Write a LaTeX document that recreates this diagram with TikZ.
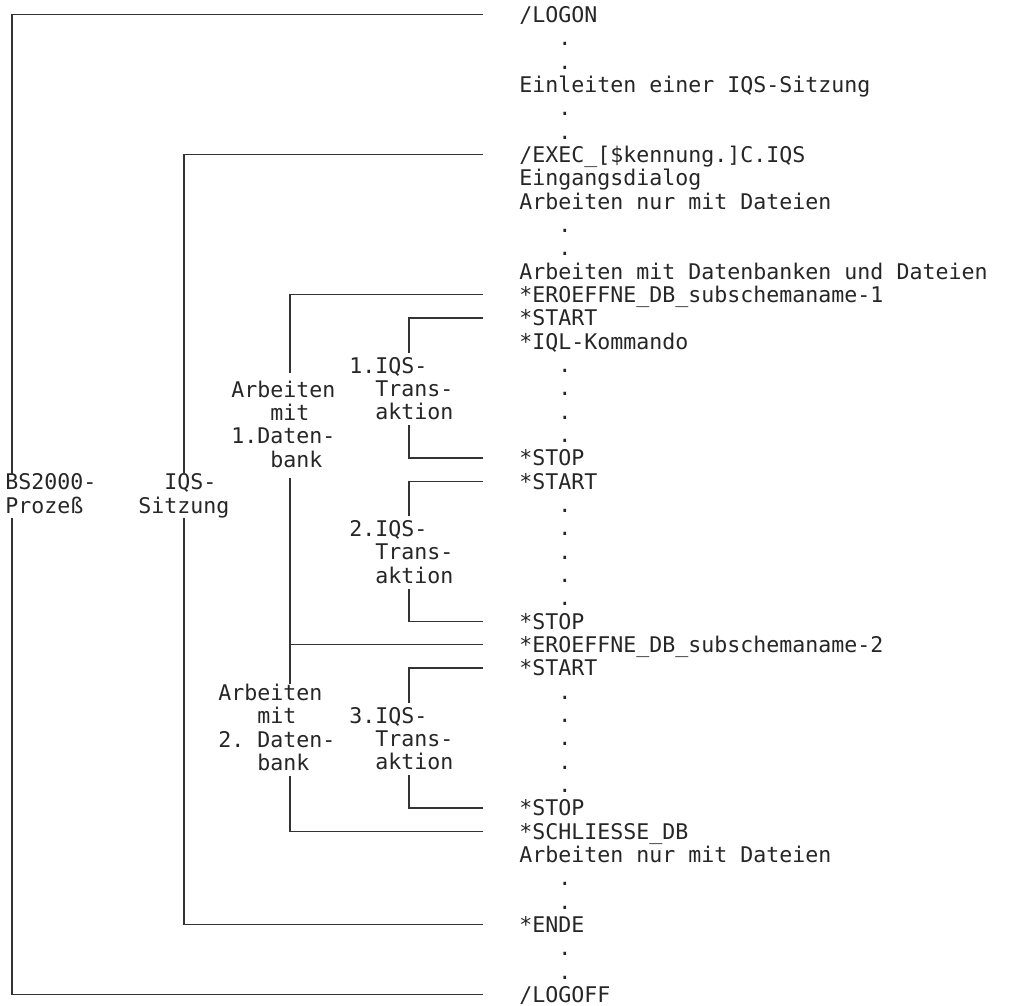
\documentclass[tikz,border=0pt]{standalone}
\usepackage{fontspec}
\setmonofont{DejaVu Sans Mono}
\usetikzlibrary{calc}

\newcommand{\chsp}[1]{\hspace*{#1\fontcharwd\font`0}}

\tikzset{
    mono/.style={font=\ttfamily\fontsize{10.8}{11.667}\selectfont, text=black!85},
    cmd/.style={mono, anchor=west, inner sep=0pt, text height=7.87pt, text depth=0pt},
    lbl/.style={mono, anchor=north west, inner sep=0pt, align=left},
    frame/.style={draw=black!80, line width=0.6pt},
}

\begin{document}
\begin{tikzpicture}[x=0.5pt, y=-11.667pt]
    \useasboundingbox (0,-0.63) rectangle (1011,42.45);
    % commands on the right
    \node[cmd] (logon)  at (519,0)  {/LOGON};
    \node[cmd] (einl)   at (519,3)  {Einleiten einer IQS-Sitzung};
    \node[cmd] (exec)   at (519,6)  {/EXEC\_[\$kennung.]C.IQS};
    \node[cmd] (eing)   at (519,7)  {Eingangsdialog};
    \node[cmd] (dat1)   at (519,8)  {Arbeiten nur mit Dateien};
    \node[cmd] (dbdat)  at (519,11) {Arbeiten mit Datenbanken und Dateien};
    \node[cmd] (ero1)   at (519,12) {*EROEFFNE\_DB\_subschemaname-1};
    \node[cmd] (start1) at (519,13) {*START};
    \node[cmd] (iql)    at (519,14) {*IQL-Kommando};
    \node[cmd] (stop1)  at (519,19) {*STOP};
    \node[cmd] (start2) at (519,20) {*START};
    \node[cmd] (stop2)  at (519,26) {*STOP};
    \node[cmd] (ero2)   at (519,27) {*EROEFFNE\_DB\_subschemaname-2};
    \node[cmd] (start3) at (519,28) {*START};
    \node[cmd] (stop3)  at (519,34) {*STOP};
    \node[cmd] (schl)   at (519,35) {*SCHLIESSE\_DB};
    \node[cmd] (dat2)   at (519,36) {Arbeiten nur mit Dateien};
    \node[cmd] (ende)   at (519,39) {*ENDE};
    \node[cmd] (logoff) at (519,42) {/LOGOFF};
    \foreach \r in {1,2,4,5,9,10,15,16,17,18,21,22,23,24,25,29,30,31,32,33,37,38,40,41}
        {\node[cmd] (dot\r) at (558,\r) {.};}
    % labels of the brackets
    \node[lbl] (bs)  at (5,19.664)   {BS2000-\\Prozeß};
    \node[lbl] (iqs) at (138,19.664) {\chsp{2}IQS-\\Sitzung};
    \node[lbl] (db1) at (231,15.664) {Arbeiten\\\chsp{3}mit\\1.Daten-\\\chsp{3}bank};
    \node[lbl] (db2) at (218,28.664) {Arbeiten\\\chsp{3}mit\\2. Daten-\\\chsp{3}bank};
    \node[lbl] (tr1) at (349,14.664) {1.IQS-\\\chsp{2}Trans-\\\chsp{2}aktion};
    \node[lbl] (tr2) at (349,21.664) {2.IQS-\\\chsp{2}Trans-\\\chsp{2}aktion};
    \node[lbl] (tr3) at (349,29.664) {3.IQS-\\\chsp{2}Trans-\\\chsp{2}aktion};
    \coordinate (bsx) at (12,0);
    \coordinate (iqsx) at (184,0);
    \coordinate (dbx) at (290,0);
    \coordinate (trx) at (409,0);
    % brackets
    \draw[frame] (logon.west) ++(-36,0) -| (bs.north -| bsx);
    \draw[frame, shorten >=2pt] (logoff.west) ++(-36,0) -| (bs.south -| bsx);
    \draw[frame] (exec.west) ++(-36,0) -| (iqs.north -| iqsx);
    \draw[frame] (ende.west) ++(-36,0) -| (iqs.south -| iqsx);
    \draw[frame, shorten >=3.4pt] (ero1.west) ++(-36,0) -| (db1.north -| dbx);
    \draw[frame, shorten >=5pt] (ero2.west) ++(-36,0) -| (db1.south -| dbx);
    \draw[frame] (ero2.west) ++(-36,0) -| (db2.north -| dbx);
    \draw[frame, shorten >=2.5pt] (schl.west) ++(-36,0) -| (db2.south -| dbx);
    \draw[frame, shorten >=2pt] (start1.west) ++(-36,0) -| (tr1.north -| trx);
    \draw[frame, shorten >=2.3pt] (stop1.west) ++(-36,0) -| (tr1.south -| trx);
    \draw[frame, shorten >=2pt] (start2.west) ++(-36,0) -| (tr2.north -| trx);
    \draw[frame, shorten >=2.3pt] (stop2.west) ++(-36,0) -| (tr2.south -| trx);
    \draw[frame, shorten >=2pt] (start3.west) ++(-36,0) -| (tr3.north -| trx);
    \draw[frame, shorten >=2.3pt] (stop3.west) ++(-36,0) -| (tr3.south -| trx);
\end{tikzpicture}
\end{document}
